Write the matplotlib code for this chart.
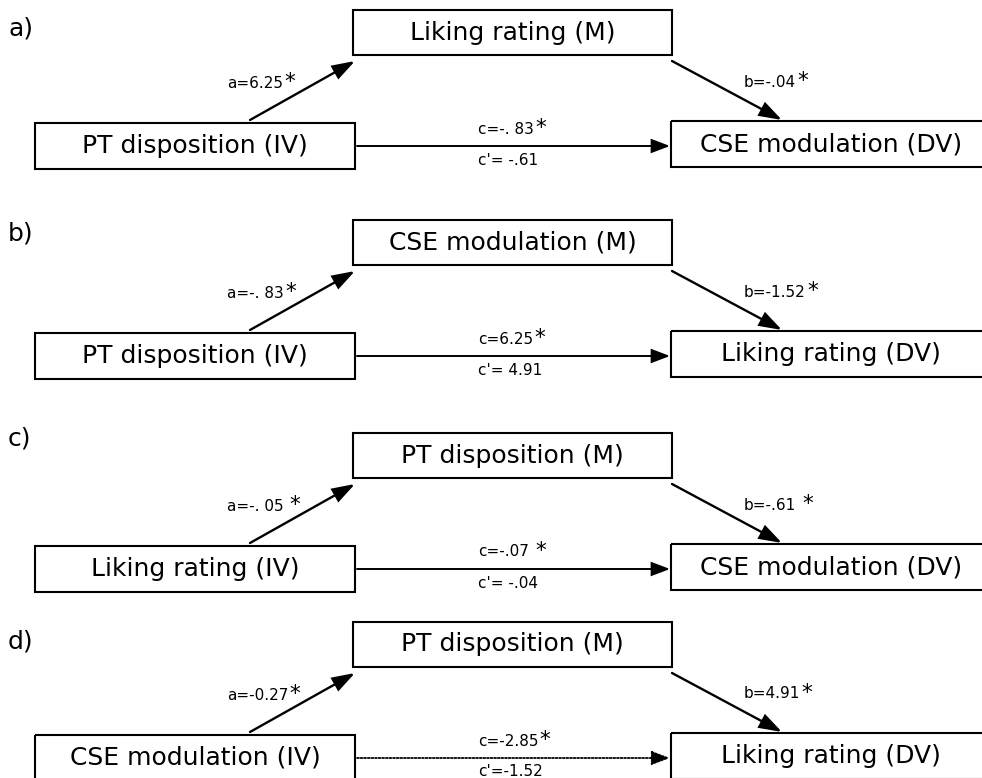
import matplotlib
matplotlib.use("Agg")
import matplotlib.pyplot as plt
from matplotlib.patches import Rectangle, FancyArrowPatch

# ---- data ----
panel_tags = ["a)", "b)", "c)", "d)"]
mediators = ["Liking rating (M)", "CSE modulation (M)", "PT disposition (M)", "PT disposition (M)"]
predictors = ["PT disposition (IV)", "PT disposition (IV)", "Liking rating (IV)", "CSE modulation (IV)"]
outcomes = ["CSE modulation (DV)", "Liking rating (DV)", "CSE modulation (DV)", "Liking rating (DV)"]
a_paths = ["a=6.25", "a=-. 83", "a=-. 05 ", "a=-0.27"]
b_paths = ["b=-.04", "b=-1.52", "b=-.61 ", "b=4.91"]
c_total = ["c=-. 83", "c=6.25", "c=-.07 ", "c=-2.85"]
c_direct = ["c'= -.61", "c'= 4.91", "c'= -.04", "c'=-1.52"]
direct_dotted = [False, False, False, True]

# ---- layout (pixel coordinates) ----
panel_top = [10, 220, 433, 622]
tag_dy = [18, 13, 5, 20]

W, H = 982, 778
fig = plt.figure(figsize=(W / 100, H / 100), dpi=100)
ax = fig.add_axes([0, 0, 1, 1])
ax.set_xlim(0, W)
ax.set_ylim(H, 0)
ax.axis("off")

BOX_FS = 18
LAB_FS = 11
STAR_FS = 15.5
SPACE_EM = 0.318


def box(x, y, w, h, label):
    ax.add_patch(Rectangle((x, y), w, h, fill=False, lw=1.5, ec="black"))
    ax.text(x + w / 2, y + h / 2, label, ha="center", va="center", fontsize=BOX_FS)


def arrow(p0, p1, lw, scale, hw, ls="-"):
    ax.add_patch(FancyArrowPatch(p0, p1, arrowstyle=f"-|>,head_length=0.45,head_width={hw}",
                                 mutation_scale=scale, lw=lw, color="black",
                                 shrinkA=0, shrinkB=0, linestyle=ls, joinstyle="miter"))


def starred(x, y, s):
    core = s.rstrip()
    nsp = len(s) - len(core)
    t = ax.text(x, y, core, ha="left", va="center", fontsize=LAB_FS)
    gap = 1 + nsp * SPACE_EM * LAB_FS
    ax.annotate("*", xy=(1, 0.5), xycoords=t, xytext=(gap, 1),
                textcoords="offset points", ha="left", va="center", fontsize=STAR_FS)


for i in range(4):
    y0 = panel_top[i]
    ax.text(8, y0 + tag_dy[i], panel_tags[i], ha="left", va="center", fontsize=BOX_FS)
    box(353, y0, 319, 45, mediators[i])
    box(35, y0 + 113, 320, 46, predictors[i])
    box(671, y0 + 111, 320, 46, outcomes[i])

    arrow((250, y0 + 110), (355, y0 + 51), 1.7, 30, 0.15)
    arrow((672, y0 + 51), (782, y0 + 110), 1.7, 30, 0.15)
    if direct_dotted[i]:
        arrow((357, y0 + 136), (670, y0 + 136), 1.3, 25, 0.17, ls=(0, (1, 1)))
    else:
        arrow((357, y0 + 136), (670, y0 + 136), 1.4, 25, 0.17)

    starred(227, y0 + 73, a_paths[i])
    starred(744, y0 + 72, b_paths[i])
    starred(478, y0 + 119, c_total[i])
    ax.text(478, y0 + 150, c_direct[i], ha="left", va="center", fontsize=LAB_FS)

fig.savefig("out.png", dpi=100)
